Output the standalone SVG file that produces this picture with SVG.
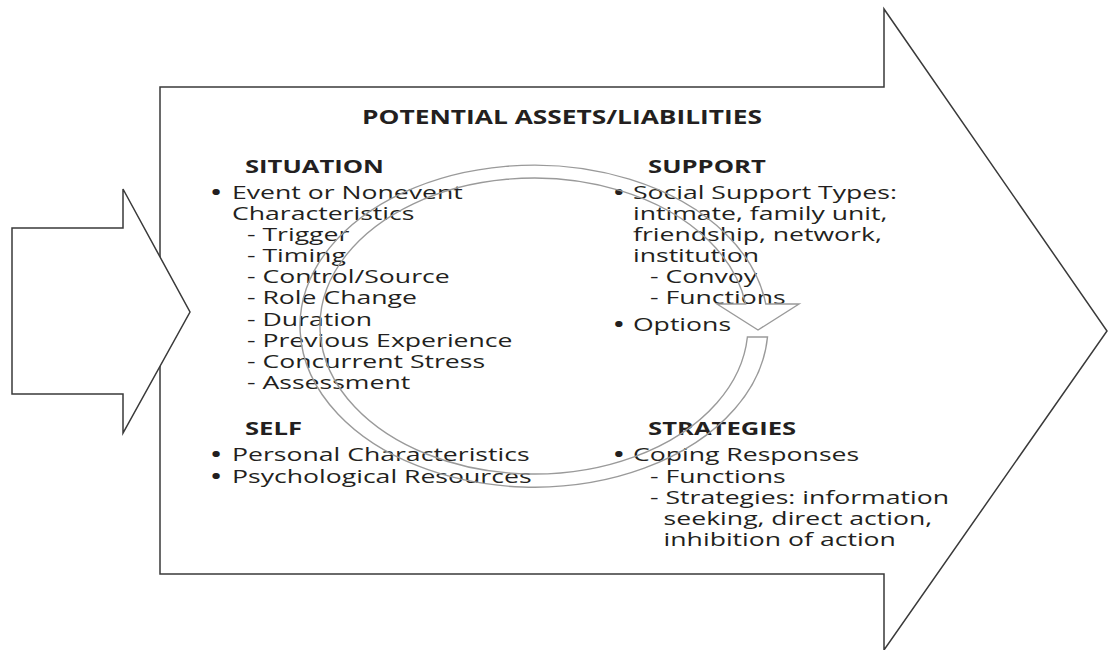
<svg xmlns="http://www.w3.org/2000/svg" width="1109" height="650" viewBox="0 0 1109 650">
  <style>
    .outline { fill: #ffffff; stroke: #3a3a3a; stroke-width: 1.5; stroke-linejoin: miter; }
    .cycle { fill: none; stroke: #9a9a9a; stroke-width: 1.4; stroke-linejoin: miter; }
    text { font-family: "Open Sans", "Noto Sans", "DejaVu Sans", sans-serif; fill: #231f20; }
    .body { font-size: 19px; }
    .head { font-size: 18.3px; font-weight: bold; }
    .title { font-size: 18.8px; font-weight: bold; }
    .bul { font-size: 25px; text-anchor: middle; }
  </style>

  <rect width="1109" height="650" fill="#ffffff"/>

  <!-- large arrow framing the whole model -->
  <g id="frame-arrow">
    <polygon class="outline" points="160,87 884,87 884,9 1107,331 884,650 884,574 160,574"/>
  </g>

  <!-- small incoming arrow on the left -->
  <g id="input-arrow">
    <polygon class="outline" points="12,228 123,228 123,189 190,312 123,433 123,394 12,394"/>
  </g>

  <!-- text blocks: glyphs widened horizontally by 1.4 -->
  <g id="title" transform="scale(1.4 1)">
    <text class="title" x="258.6" y="124">POTENTIAL ASSETS/LIABILITIES</text>
  </g>

  <g id="situation" transform="scale(1.4 1)">
    <text class="head" x="175" y="173">SITUATION</text>
    <text class="bul" x="154.3" y="201">•</text>
    <text class="body" x="165.7" y="199">Event or Nonevent</text>
    <text class="body" x="165.7" y="220.1">Characteristics</text>
    <text class="body" x="176.4" y="241.2">- Trigger</text>
    <text class="body" x="176.4" y="262.3">- Timing</text>
    <text class="body" x="176.4" y="283.4">- Control/Source</text>
    <text class="body" x="176.4" y="304.5">- Role Change</text>
    <text class="body" x="176.4" y="325.6">- Duration</text>
    <text class="body" x="176.4" y="346.7">- Previous Experience</text>
    <text class="body" x="176.4" y="367.8">- Concurrent Stress</text>
    <text class="body" x="176.4" y="388.9">- Assessment</text>
  </g>

  <g id="support" transform="scale(1.4 1)">
    <text class="head" x="462.9" y="173">SUPPORT</text>
    <text class="bul" x="442.1" y="201">•</text>
    <text class="body" x="452.1" y="199">Social Support Types:</text>
    <text class="body" x="452.1" y="220.1">intimate, family unit,</text>
    <text class="body" x="452.1" y="241.2">friendship, network,</text>
    <text class="body" x="452.1" y="262.3">institution</text>
    <text class="body" x="464.3" y="283.4">- Convoy</text>
    <text class="body" x="464.3" y="304.5">- Functions</text>
    <text class="bul" x="442.1" y="333.5">•</text>
    <text class="body" x="452.1" y="331.5">Options</text>
  </g>

  <g id="self" transform="scale(1.4 1)">
    <text class="head" x="175" y="435.5">SELF</text>
    <text class="bul" x="154.3" y="463.5">•</text>
    <text class="body" x="165.7" y="461.5">Personal Characteristics</text>
    <text class="bul" x="154.3" y="484.6">•</text>
    <text class="body" x="165.7" y="482.6">Psychological Resources</text>
  </g>

  <g id="strategies" transform="scale(1.4 1)">
    <text class="head" x="462.9" y="435.5">STRATEGIES</text>
    <text class="bul" x="442.1" y="463.5">•</text>
    <text class="body" x="452.1" y="461.5">Coping Responses</text>
    <text class="body" x="464.3" y="482.6">- Functions</text>
    <text class="body" x="464.3" y="503.7">- Strategies: information</text>
    <text class="body" x="474" y="524.8">seeking, direct action,</text>
    <text class="body" x="474" y="545.9">inhibition of action</text>
  </g>

  <!-- circular band arrow linking the four areas -->
  <g id="connectors">
    <path class="cycle" d="M 767.5,337 L 747.4,337 A 214 148 0 1 1 745.6,304 L 717,304 L 758,330 L 799,304 L 765.8,304 A 234 161 0 1 0 767.5,337 Z"/>
  </g>
</svg>
